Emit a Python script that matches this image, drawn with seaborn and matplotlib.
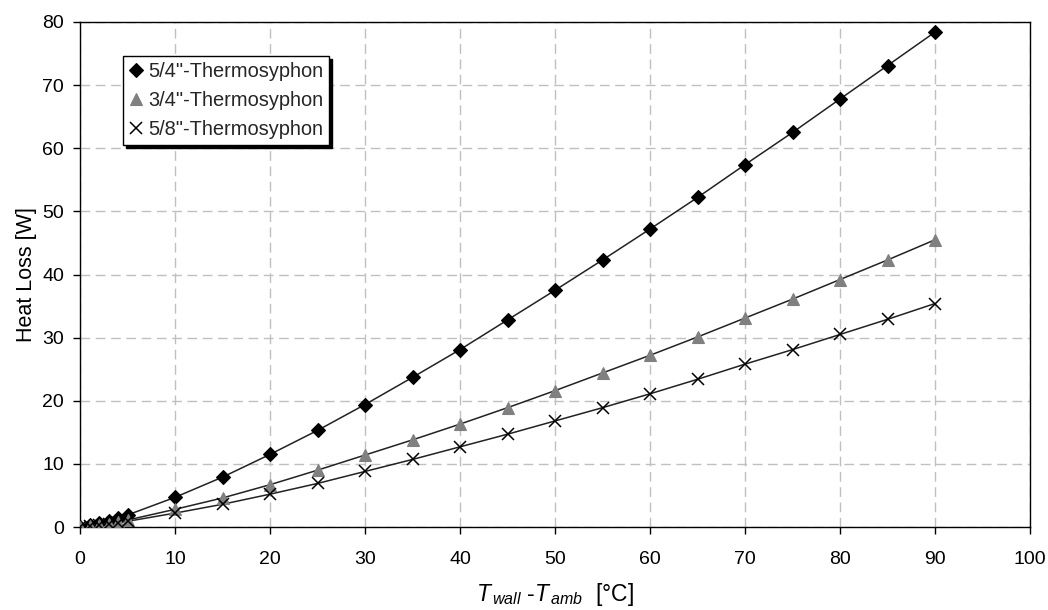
import matplotlib
matplotlib.use("Agg")
import matplotlib.pyplot as plt
import seaborn as sns
import pandas as pd
import numpy as np

sns.set_theme(style="white")
plt.rcParams['font.family'] = ['Liberation Sans', 'DejaVu Sans']
plt.rcParams['mathtext.fontset'] = 'custom'
plt.rcParams['mathtext.rm'] = 'Liberation Sans'
plt.rcParams['mathtext.it'] = 'Liberation Sans:italic'

dT = [0, 1, 2, 3, 4, 5, 10, 15, 20, 25, 30, 35, 40, 45, 50, 55, 60, 65, 70, 75, 80, 85, 90]
q_54 = [0, 0.3, 0.6, 1.0, 1.4, 1.9, 4.7, 7.9, 11.5, 15.3, 19.4, 23.7, 28.1, 32.8, 37.5, 42.3, 47.2, 52.2, 57.4, 62.5, 67.8, 73.1, 78.4]
q_34 = [0, 0.15, 0.3, 0.55, 0.8, 1.1, 2.8, 4.6, 6.7, 9.0, 11.4, 13.8, 16.3, 18.9, 21.6, 24.4, 27.2, 30.1, 33.1, 36.1, 39.2, 42.3, 45.5]
q_58 = [0, 0.1, 0.25, 0.45, 0.65, 0.9, 2.2, 3.6, 5.2, 6.9, 8.8, 10.7, 12.7, 14.7, 16.8, 18.9, 21.1, 23.4, 25.8, 28.1, 30.5, 32.9, 35.4]
labels = ['5/4"-Thermosyphon', '3/4"-Thermosyphon', '5/8"-Thermosyphon']

df = pd.DataFrame({
    "dT": dT * 3,
    "Q": q_54 + q_34 + q_58,
    "series": [labels[0]] * len(dT) + [labels[1]] * len(dT) + [labels[2]] * len(dT),
})

fig = plt.figure(figsize=(10.48, 6.10), dpi=100)
ax = fig.add_axes([80 / 1048, 1 - 527 / 610, 950 / 1048, 505 / 610])

styles = {
    labels[0]: dict(marker="D", ms=7, mfc="black", mec="black", mew=0.8),
    labels[1]: dict(marker="^", ms=9, mfc="#808080", mec="#808080", mew=0.8),
    labels[2]: dict(marker="x", ms=8.5, mfc="black", mec="black", mew=1.1),
}

handles = []
for lab in labels:
    sub = df[df["series"] == lab]
    sns.lineplot(data=sub, x="dT", y="Q", ax=ax, color="#222222", lw=1.1, legend=False)
    st = styles[lab]
    h, = ax.plot(sub["dT"], sub["Q"], linestyle="none", marker=st["marker"], ms=st["ms"],
                 mfc=st["mfc"], mec=st["mec"], mew=st["mew"], label=lab, zorder=3)
    handles.append(h)

ax.set_xlim(0, 100)
ax.set_ylim(0, 80)
ax.set_xticks(range(0, 101, 10))
ax.set_yticks(range(0, 81, 10))
ax.grid(True, color="#c0c0c0", linestyle=(0, (7, 4)), linewidth=1.0)
for s in ax.spines.values():
    s.set_color("black")
    s.set_linewidth(1.0)
ax.tick_params(axis="both", which="major", direction="out", length=5, width=1.0, color="black",
               labelsize=14, bottom=True, left=True, colors="black")
ax.tick_params(axis="x", pad=12)
ax.tick_params(axis="y", pad=6.5)
ax.set_xlabel(r"$T_{\,wall}$ -$T_{\,amb}$  [°C]", fontsize=16.5, color="black", labelpad=10)
ax.set_ylabel("Heat Loss [W]", fontsize=15.5, color="black", labelpad=4)

leg = ax.legend(handles=handles, loc="upper left", bbox_to_anchor=(43 / 950, 1 - 34 / 505), fontsize=14.4,
                frameon=True, fancybox=False, shadow={'color': 'black', 'alpha': 1.0},
                borderpad=0.3, labelspacing=0.5,
                handlelength=0.7, handletextpad=0.25, borderaxespad=0)
leg.get_frame().set_edgecolor("black")
leg.get_frame().set_linewidth(1.0)
leg.get_frame().set_alpha(1.0)

fig.savefig("out.png", dpi=100)
